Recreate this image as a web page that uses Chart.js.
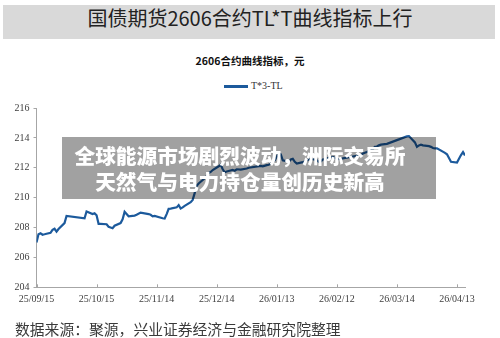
<!DOCTYPE html>
<html>
<head>
<meta charset="utf-8">
<script src="https://cdn.jsdelivr.net/npm/chart.js@4/dist/chart.umd.min.js"></script>
<style>
  html, body { margin: 0; padding: 0; background: #fff; }
  #wrap { position: relative; width: 500px; height: 338px; overflow: hidden; background: #fff; }
  #c { position: absolute; left: 0; top: 0; }
  .abs { position: absolute; white-space: nowrap; }
  #header { left: 3px; top: 5px; width: 492px; height: 34px; background: #d9d9d9; }
  #headerText { left: 0; top: 8px; width: 500px; text-align: center; font-family: "Noto Sans CJK SC", "Noto Sans", sans-serif; font-size: 20px; line-height: 20px; color: #222; }
  #ctitle { left: 0; top: 54px; width: 500px; text-align: center; font-family: "Noto Sans CJK SC", sans-serif; font-weight: 700; font-size: 10.5px; line-height: 14px; color: #111; }
  #legLine { left: 224px; top: 85px; width: 24px; height: 2.5px; background: #1c5a9c; }
  #legText { left: 251px; top: 80px; font-family: "Liberation Serif", "DejaVu Serif", serif; font-size: 10px; line-height: 12px; color: #333; }
  #banner { left: 62px; top: 137px; width: 374px; height: 62px; background: rgba(0,0,0,0.37); }
  #bannerText { left: 40px; top: 142px; width: 400px; color: #fff; text-align: center; font-family: "Noto Sans CJK SC", sans-serif; font-weight: 900; font-size: 20.7px; line-height: 26px; }
  #source { left: 15px; top: 320px; font-family: "Noto Sans CJK SC", sans-serif; font-size: 14.8px; line-height: 18px; color: #3a3a3a; }
</style>
</head>
<body>
<div id="wrap">
  <div class="abs" id="header"></div>
  <div class="abs" id="headerText">国债期货2606合约TL*T曲线指标上行</div>
  <div class="abs" id="ctitle">2606合约曲线指标，元</div>
  <div class="abs" id="legLine"></div>
  <div class="abs" id="legText">T*3-TL</div>
  <canvas id="c" width="500" height="338"></canvas>
  <div class="abs" id="banner"></div>
  <div class="abs" id="bannerText">全球能源市场剧烈波动，洲际交易所<br>天然气与电力持仓量创历史新高</div>
  <div class="abs" id="source">数据来源：聚源，兴业证券经济与金融研究院整理</div>
</div>
<script>
// ---- data ----
const seriesName = "T*3-TL";
const startDate = "2025-09-15";
const endDate = "2026-04-17";
const xTickLabels = ["25/09/15","25/10/15","25/11/14","25/12/14","26/01/13","26/02/12","26/03/14","26/04/13"];
const yTicks = [204, 206, 208, 210, 212, 214, 216];
const dates = [
  "2025-09-15","2025-09-16","2025-09-17","2025-09-18","2025-09-19","2025-09-22","2025-09-23","2025-09-24","2025-09-25","2025-09-26",
  "2025-09-29","2025-09-30","2025-10-09","2025-10-10","2025-10-13","2025-10-14","2025-10-15","2025-10-16","2025-10-17","2025-10-20",
  "2025-10-21","2025-10-22","2025-10-23","2025-10-24","2025-10-27","2025-10-28","2025-10-29","2025-10-30","2025-10-31","2025-11-03",
  "2025-11-04","2025-11-06","2025-11-10","2025-11-11","2025-11-12","2025-11-13","2025-11-17","2025-11-18","2025-11-19","2025-11-20",
  "2025-11-21","2025-11-24","2025-11-25","2025-11-26","2025-11-27","2025-11-28","2025-12-01","2025-12-02","2025-12-03","2025-12-04",
  "2025-12-05","2025-12-08","2025-12-09","2025-12-10","2025-12-11","2025-12-12","2025-12-15","2025-12-16","2025-12-17","2025-12-18",
  "2025-12-19","2025-12-22","2025-12-23","2025-12-24","2025-12-26","2025-12-29","2025-12-30","2026-01-05","2026-01-06","2026-01-08",
  "2026-01-09","2026-01-12","2026-01-13","2026-01-14","2026-01-15","2026-01-16","2026-01-19","2026-01-20","2026-01-21","2026-01-22",
  "2026-01-23","2026-01-26","2026-01-27","2026-01-28","2026-01-29","2026-01-30","2026-02-02","2026-02-03","2026-02-04","2026-02-05",
  "2026-02-06","2026-02-09","2026-02-10","2026-02-11","2026-02-12","2026-02-13","2026-02-24","2026-02-25","2026-02-26","2026-02-27",
  "2026-03-02","2026-03-03","2026-03-04","2026-03-05","2026-03-06","2026-03-09","2026-03-10","2026-03-11","2026-03-12","2026-03-13",
  "2026-03-16","2026-03-17","2026-03-18","2026-03-19","2026-03-20","2026-03-23","2026-03-24","2026-03-25","2026-03-26","2026-03-27",
  "2026-03-30","2026-03-31","2026-04-01","2026-04-02","2026-04-03","2026-04-07","2026-04-08","2026-04-09","2026-04-10","2026-04-13",
  "2026-04-14","2026-04-15","2026-04-16","2026-04-17"
];
const values = [
  207.00,207.55,207.62,207.52,207.55,207.65,207.85,207.92,207.72,207.90,
  208.30,208.78,208.62,209.07,208.90,208.95,208.82,208.25,208.25,208.22,
  208.05,208.00,207.95,208.12,208.30,208.55,209.05,208.90,208.75,208.80,
  208.85,209.00,208.90,208.85,208.75,208.78,208.62,208.60,208.90,209.25,
  209.27,209.35,209.50,209.27,209.35,209.45,209.70,209.85,210.30,210.80,
  210.95,211.30,211.45,211.65,211.72,211.85,212.10,212.20,211.90,211.70,
  211.75,211.85,211.80,211.90,211.88,211.95,212.00,212.12,212.10,212.18,
  212.20,212.50,212.75,212.95,212.90,212.50,212.40,212.55,212.60,212.40,
  212.28,212.38,212.42,212.50,212.55,212.60,212.50,212.40,212.42,212.55,
  212.58,212.70,212.72,212.65,212.60,212.58,212.85,212.95,213.00,213.05,
  213.25,213.40,213.42,213.50,213.55,213.60,213.65,213.70,213.75,213.80,
  213.95,214.00,214.05,214.10,214.12,213.70,213.40,213.50,213.55,213.50,
  213.45,213.40,213.32,213.30,213.30,213.00,212.90,212.65,212.40,212.35,
  212.60,212.85,213.05,212.82
];

// ---- helpers ----
const DAY = 86400000;
function dayOf(s) { return Math.round((Date.parse(s + "T00:00:00Z") - Date.parse(startDate + "T00:00:00Z")) / DAY); }
function labelToIso(l) { const p = l.split("/"); return "20" + p[0] + "-" + p[1] + "-" + p[2]; }
const tickDays = xTickLabels.map(l => dayOf(labelToIso(l)));
const tickMap = {}; tickDays.forEach((d, i) => tickMap[d] = xTickLabels[i]);
const points = dates.map((d, i) => ({ x: dayOf(d), y: values[i] }));

const axisColor = "#a6a6a6";
const tickFont = { family: "Liberation Serif", size: 10 };

// x-axis tick marks pointing inward (up), as in the reference
const innerTicks = {
  id: "innerTicks",
  afterDraw(chart) {
    const xs = chart.scales.x, ctx = chart.ctx, b = chart.chartArea.bottom;
    ctx.save();
    ctx.strokeStyle = axisColor; ctx.lineWidth = 1;
    xs.ticks.forEach(t => {
      const px = Math.round(xs.getPixelForValue(t.value)) + 0.5;
      ctx.beginPath(); ctx.moveTo(px, b - 3); ctx.lineTo(px, b); ctx.stroke();
    });
    ctx.restore();
  }
};

new Chart(document.getElementById("c"), {
  type: "line",
  data: {
    datasets: [{
      label: seriesName,
      data: points,
      borderColor: "#1c5a9c",
      borderWidth: 2.2,
      pointRadius: 0,
      tension: 0,
      fill: false
    }]
  },
  options: {
    responsive: false,
    animation: false,
    devicePixelRatio: 1,
    layout: { padding: { top: 108, left: 0, right: 35, bottom: 28.7 } },
    plugins: { legend: { display: false }, title: { display: false }, tooltip: { enabled: false } },
    scales: {
      x: {
        type: "linear",
        min: 0,
        max: dayOf(endDate),
        afterBuildTicks: s => { s.ticks = tickDays.map(v => ({ value: v })); },
        afterFit: s => { s.height = 22; },
        ticks: {
          autoSkip: false, maxRotation: 0, padding: 6, color: "#404040", font: tickFont,
          callback: v => tickMap[v] || ""
        },
        grid: { drawOnChartArea: false, drawTicks: false, color: axisColor },
        border: { display: true, color: axisColor, width: 1 }
      },
      y: {
        min: 204,
        max: 216,
        afterBuildTicks: s => { s.ticks = yTicks.map(v => ({ value: v })); },
        afterFit: s => { s.width = 36.5; },
        ticks: { padding: 4, color: "#404040", font: tickFont, callback: v => String(v) },
        grid: { drawOnChartArea: false, drawTicks: true, tickLength: 3, color: axisColor },
        border: { display: true, color: axisColor, width: 1 }
      }
    }
  },
  plugins: [innerTicks]
});
</script>
</body>
</html>
